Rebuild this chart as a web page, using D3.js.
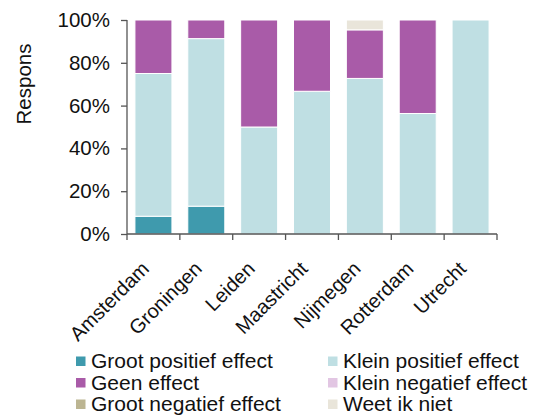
<!DOCTYPE html>
<html><head><meta charset="utf-8">
<script src="https://cdn.jsdelivr.net/npm/d3@7"></script>
<style>body{margin:0;background:#fff}svg{display:block;font-family:"Liberation Sans",Arial,sans-serif}</style>
</head><body>
<svg id="c" width="533" height="415"></svg>
<script>
const categories = ["Amsterdam","Groningen","Leiden","Maastricht","Nijmegen","Rotterdam","Utrecht"];
const seriesNames = ["Groot positief effect","Klein positief effect","Geen effect","Klein negatief effect","Groot negatief effect","Weet ik niet"];
const grootPositief = [8.3, 13.0, 0, 0, 0, 0, 0];
const kleinPositief = [66.7, 78.3, 50, 66.7, 72.7, 56.3, 100];
const geenEffect = [25.0, 8.7, 50, 33.3, 22.7, 43.7, 0];
const kleinNegatief = [0, 0, 0, 0, 0, 0, 0];
const grootNegatief = [0, 0, 0, 0, 0, 0, 0];
const weetIkNiet = [0, 0, 0, 0, 4.6, 0, 0];
const yTicks = [0, 20, 40, 60, 80, 100];
const colors = ["#3f9aad","#bfdfe3","#a95ba8","#e2c6e3","#bcb592","#e9e5da"];

(function(){
const seriesValues = [grootPositief, kleinPositief, geenEffect, kleinNegatief, grootNegatief, weetIkNiet];
const rows = categories.map((c,i)=>{const r={cat:c}; seriesNames.forEach((s,j)=>r[s]=seriesValues[j][i]); return r;});
const stack = d3.stack().keys(seriesNames)(rows);

const svg = d3.select("#c");
const pL=127, pR=497, pT=20, pB=234;
const x = d3.scaleBand().domain(categories).range([pL,pR]).paddingInner(0.3).paddingOuter(0.15);
const y = d3.scaleLinear().domain([0,100]).range([pB,pT]);
const axisColor="#555";

stack.forEach((s,j)=>{
  svg.append("g").selectAll("rect").data(s.filter(d=>d[1]-d[0]>0)).join("rect")
    .attr("x",d=>x(d.data.cat)).attr("width",x.bandwidth())
    .attr("y",d=>y(d[1])).attr("height",d=>y(d[0])-y(d[1]))
    .attr("fill",colors[j]).attr("stroke","#fff").attr("stroke-width",1);
});

const ya = svg.append("g").attr("transform",`translate(${pL},0)`)
  .call(d3.axisLeft(y).tickValues(yTicks).tickFormat(d=>d+"%").tickSize(6).tickPadding(11));
ya.selectAll("text").attr("font-size","20.5px").attr("fill","#111").attr("font-family","Liberation Sans, Arial, sans-serif");
ya.selectAll("line,path").attr("stroke",axisColor).attr("stroke-width",1.3);
ya.select(".domain").attr("d",`M0,${pT}V${pB}`);

const step = x.step();
const bounds = categories.map(c=>x(c)-step*0.15).concat([pR]);
const xa = svg.append("g");
xa.append("line").attr("x1",pL).attr("x2",pR).attr("y1",pB).attr("y2",pB).attr("stroke",axisColor).attr("stroke-width",1.3);
xa.selectAll("line.t").data(bounds).join("line").attr("class","t")
  .attr("x1",d=>d).attr("x2",d=>d).attr("y1",pB).attr("y2",pB+6).attr("stroke",axisColor).attr("stroke-width",1.3);
xa.selectAll("text").data(categories).join("text")
  .attr("transform",d=>`translate(${x(d)+x.bandwidth()/2-8},${pB+31}) rotate(-45)`)
  .attr("text-anchor","end").attr("dy","0.35em")
  .attr("font-size","20px").attr("fill","#111").text(d=>d);

svg.append("text").attr("transform","translate(24,84) rotate(-90)")
  .attr("text-anchor","middle").attr("dy","0.35em").attr("font-size","20.5px").attr("fill","#111").text("Respons");

const legX=[76,328], legY=[361,382.5,404];
seriesNames.forEach((s,i)=>{
  const cx=legX[i%2], cy=legY[Math.floor(i/2)];
  const g=svg.append("g");
  g.append("rect").attr("x",cx).attr("y",cy-4.5).attr("width",9.5).attr("height",9.5).attr("fill",colors[i]);
  g.append("text").attr("x",cx+15).attr("y",cy).attr("dy","0.35em").attr("font-size","21px").attr("fill","#111").text(s);
});
})();
</script>
</body></html>
